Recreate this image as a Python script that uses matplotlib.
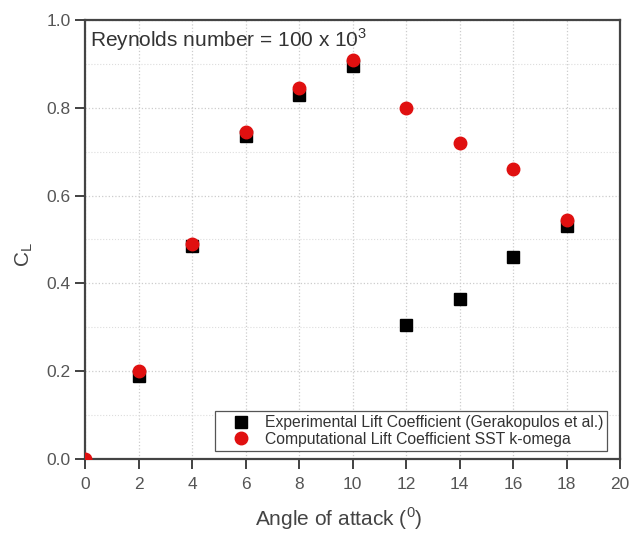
import numpy as np
import matplotlib.pyplot as plt
from matplotlib.ticker import MultipleLocator

plt.rcParams["font.family"] = ["Liberation Sans", "DejaVu Sans"]

# angle of attack (deg) and lift coefficients
exp_alpha = [2, 4, 6, 8, 10, 12, 14, 16, 18]
exp_cl = [0.19, 0.485, 0.735, 0.83, 0.895, 0.305, 0.365, 0.46, 0.53]
cfd_alpha = [0, 2, 4, 6, 8, 10, 12, 14, 16, 18]
cfd_cl = [0.0, 0.20, 0.49, 0.745, 0.845, 0.91, 0.80, 0.72, 0.66, 0.545]

fig = plt.figure(figsize=(6.38, 5.4), dpi=100)
ax = fig.add_axes([85 / 638, 1 - 459 / 540, 535 / 638, 439 / 540])

ax.plot(exp_alpha, exp_cl, "s", color="black", markersize=8,
        label="Experimental Lift Coefficient (Gerakopulos et al.)", zorder=3)
ax.plot(cfd_alpha, cfd_cl, "o", color="#e01010", markersize=9,
        label="Computational Lift Coefficient SST k-omega", zorder=4)

ax.set_xlim(0, 20)
ax.set_ylim(0, 1.0)
ax.xaxis.set_major_locator(MultipleLocator(2))
ax.yaxis.set_major_locator(MultipleLocator(0.2))
ax.yaxis.set_minor_locator(MultipleLocator(0.1))
ax.yaxis.set_major_formatter(plt.FormatStrFormatter("%.1f"))

ax.grid(which="major", color="#cccccc", linestyle=":", linewidth=0.9)
ax.grid(which="minor", axis="y", color="#dddddd", linestyle=":", linewidth=0.8)
ax.tick_params(which="major", direction="out", length=7, width=1.3,
               labelsize=12.5, colors="#333333", labelcolor="#555555")
ax.tick_params(axis="x", pad=6)
ax.tick_params(which="minor", length=0)
for s in ax.spines.values():
    s.set_linewidth(1.6)
    s.set_color("#444444")

ax.set_xlabel("Angle of attack ($^\\mathregular{0}$)", fontsize=15, color="#444444")
ax.xaxis.set_label_coords(0.475, -0.105)
ax.set_ylabel("C$_\\mathregular{L}$", fontsize=15, color="#444444")
ax.yaxis.set_label_coords(-0.093, 0.465)

ax.text(0.01, 0.985, "Reynolds number = 100 x 10$^\\mathregular{3}$", transform=ax.transAxes,
        fontsize=15, color="#333333", va="top", ha="left")

leg = ax.legend(loc="lower right", bbox_to_anchor=(0.982, 0.012), fontsize=11.3,
                fancybox=False, edgecolor="#555555", framealpha=1,
                handletextpad=0.1, borderpad=0.25, labelspacing=0.1,
                handlelength=2.8, borderaxespad=0.2)
leg.get_frame().set_linewidth(0.9)
for t in leg.get_texts():
    t.set_color("#333333")

fig.savefig("out.png", dpi=100)
